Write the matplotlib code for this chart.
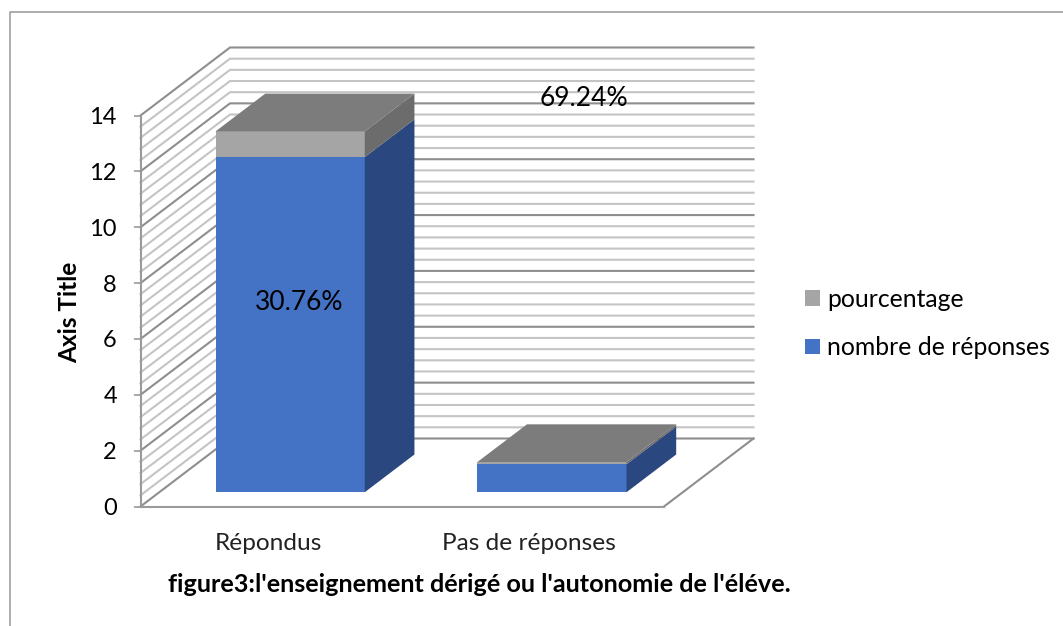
import matplotlib
matplotlib.use("Agg")
import matplotlib.pyplot as plt
import numpy as np
from matplotlib.lines import Line2D
from matplotlib.patches import Patch, Polygon

categories = ["Répondus", "Pas de réponses"]
nombre_de_reponses = [12, 1]
pourcentage = [0.92, 0.08]
data_labels = ["30.76%", "69.24%"]
series_names = ["pourcentage", "nombre de réponses"]
y_ticks = [0, 2, 4, 6, 8, 10, 12, 14]
x_title = "figure3:l'enseignement dérigé ou l'autonomie de l'éléve."
y_title = "Axis Title"

W, H = 1063, 626
plt.rcParams["font.family"] = ["Lato", "DejaVu Sans"]
fig = plt.figure(figsize=(W / 100, H / 100), dpi=100)

# front plane of the 3-D box, in pixels
L, R, B, T = 140.5, 664.0, 506.5, 115.5
ax = fig.add_axes([L / W, 1 - B / H, (R - L) / W, (B - T) / H])
ax.set_xlim(-0.5, 1.5)
ax.set_ylim(0, 14)
ax.patch.set_alpha(0)

px_x = (R - L) / 2
px_y = (B - T) / 14
DX = 89.5 / px_x   # full depth in x units
DY = 68.0 / px_y   # full depth in y units


def P(x, y, d):
    return (x + d * DX, y + d * DY)


MAJOR, MINOR, AXIS = "#8e8e8e", "#c4c4c4", "#9a9a9a"
minor_vals = np.arange(0, 14.01, 0.4)
for v in minor_vals:
    major = abs(v / 2 - round(v / 2)) < 1e-6
    col = MAJOR if major else MINOR
    a, b = P(-0.5, v, 0), P(-0.5, v, 1)
    c = P(1.5, v, 1)
    ax.plot([a[0], b[0], c[0]], [a[1], b[1], c[1]], color=col, lw=1.5,
            clip_on=False, zorder=1, solid_joinstyle="miter")
# floor right edge
a, b = P(1.5, 0, 0), P(1.5, 0, 1)
ax.plot([a[0], b[0]], [a[1], b[1]], color=MAJOR, lw=1.5, clip_on=False, zorder=1)

# bars
BW = 0.57
D0, D1 = 0.21, 0.765
BLUE, BLUE_SIDE = "#4472C4", "#2A4780"
GREY, GREY_SIDE, GREY_TOP = "#A5A5A5", "#6C6C6C", "#7C7C7C"
xc = np.arange(len(categories), dtype=float)
x0 = xc - BW / 2
x1 = xc + BW / 2
base = np.zeros(len(categories))
for vals, front, side in [(nombre_de_reponses, BLUE, BLUE_SIDE),
                          (pourcentage, GREY, GREY_SIDE)]:
    vals = np.array(vals, dtype=float)
    ax.bar(xc + D0 * DX, vals, BW, bottom=base + D0 * DY, color=front,
           clip_on=False, zorder=3, linewidth=0)
    top = base + vals
    for i in range(len(xc)):
        ax.add_patch(Polygon([P(x1[i], base[i], D0), P(x1[i], base[i], D1),
                              P(x1[i], top[i], D1), P(x1[i], top[i], D0)],
                             closed=True, fc=side, ec="none", clip_on=False, zorder=3))
    base = top
for i in range(len(xc)):
    ax.add_patch(Polygon([P(x0[i], base[i], D0), P(x1[i], base[i], D0),
                          P(x1[i], base[i], D1), P(x0[i], base[i], D1)],
                         closed=True, fc=GREY_TOP, ec="none", clip_on=False, zorder=4))

# data labels
ax.text(0.105, 7.3, data_labels[0], ha="center", va="center", fontsize=19,
        color="black", zorder=6)
ax.text(1.196, 14.6, data_labels[1], ha="center", va="center", fontsize=19,
        color="black", zorder=6)

# axes
for s in ("top", "right"):
    ax.spines[s].set_visible(False)
for s in ("left", "bottom"):
    ax.spines[s].set_color(AXIS)
    ax.spines[s].set_linewidth(1.5)
    ax.spines[s].set_zorder(2)
ax.set_yticks(y_ticks)
ax.tick_params(axis="y", length=5, width=1.2, color=AXIS, labelsize=17, pad=12,
               labelcolor="black")
ax.set_xticks([xc[0] - 0.01, xc[1] - 0.015], categories)
ax.tick_params(axis="x", length=0, labelsize=17.6, pad=19, labelcolor="#222222")

fig.text(69.5 / W, 1 - 312 / H, y_title, rotation=90, ha="center", va="center",
         fontsize=17.6, fontweight="bold")
fig.text(479 / W, 1 - 585 / H, x_title, ha="center", va="center",
         fontsize=18.2, fontweight="bold")

# legend
handles = [Patch(fc=GREY, ec="none"), Patch(fc=BLUE, ec="none")]
fig.legend(handles, series_names, loc="center left",
           bbox_to_anchor=(805 / W, 1 - 323.5 / H), frameon=False, fontsize=17.8,
           handlelength=0.61, handleheight=0.61, handletextpad=0.28,
           labelspacing=1.03, borderpad=0, borderaxespad=0)

# chart-area border
fig.add_artist(Line2D([9.5 / W, 9.5 / W, 1], [0, 1 - 11.5 / H, 1 - 11.5 / H],
                      color="#a0a0a0", lw=1.2, transform=fig.transFigure))

fig.savefig("out.png", dpi=100)
